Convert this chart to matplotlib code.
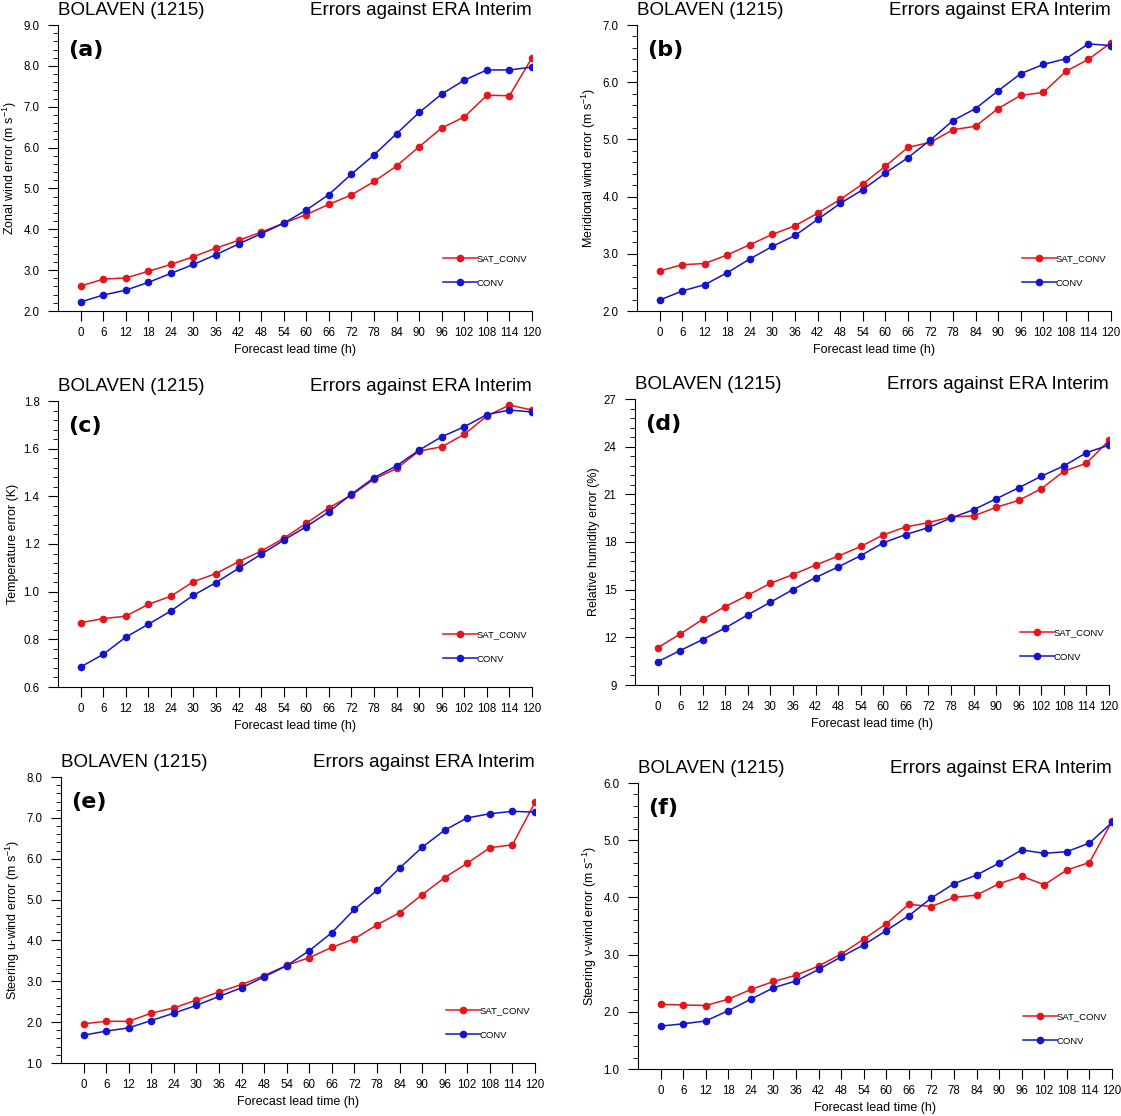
import matplotlib
matplotlib.use("Agg")
import matplotlib.pyplot as plt
from matplotlib.ticker import MultipleLocator, AutoMinorLocator, FormatStrFormatter

plt.rcParams['font.family'] = ['Liberation Sans', 'DejaVu Sans']
plt.rcParams['mathtext.fontset'] = 'custom'
plt.rcParams['mathtext.rm'] = 'Liberation Sans'
plt.rcParams['mathtext.it'] = 'Liberation Sans:italic'

# Forecast lead times (h)
hours = [0, 6, 12, 18, 24, 30, 36, 42, 48, 54, 60, 66, 72, 78, 84, 90, 96, 102, 108, 114, 120]

# (a) zonal wind error
zonal_sat = [2.61, 2.78, 2.81, 2.97, 3.14, 3.33, 3.54, 3.73, 3.93, 4.15, 4.36,
             4.61, 4.84, 5.17, 5.55, 6.02, 6.48, 6.75, 7.28, 7.27, 8.20]
zonal_conv = [2.22, 2.39, 2.51, 2.70, 2.92, 3.14, 3.38, 3.64, 3.89, 4.15, 4.47,
              4.85, 5.35, 5.82, 6.34, 6.86, 7.31, 7.65, 7.90, 7.90, 7.97]

# (b) meridional wind error
merid_sat = [2.70, 2.81, 2.83, 2.98, 3.16, 3.34, 3.49, 3.71, 3.95, 4.22, 4.53,
             4.86, 4.95, 5.17, 5.23, 5.54, 5.77, 5.82, 6.19, 6.40, 6.69]
merid_conv = [2.19, 2.35, 2.46, 2.67, 2.91, 3.13, 3.32, 3.60, 3.88, 4.12, 4.41,
              4.68, 4.99, 5.33, 5.54, 5.85, 6.15, 6.31, 6.41, 6.67, 6.64]

# (c) temperature error
temp_sat = [0.870, 0.887, 0.897, 0.947, 0.981, 1.042, 1.076, 1.126, 1.170, 1.224, 1.287,
            1.352, 1.405, 1.472, 1.517, 1.590, 1.608, 1.660, 1.737, 1.783, 1.762]
temp_conv = [0.684, 0.737, 0.809, 0.863, 0.919, 0.985, 1.038, 1.098, 1.157, 1.216, 1.273,
             1.335, 1.409, 1.478, 1.528, 1.594, 1.650, 1.692, 1.743, 1.762, 1.754]

# (d) relative humidity error
rh_sat = [11.34, 12.21, 13.13, 13.94, 14.65, 15.40, 15.95, 16.55, 17.11, 17.72, 18.45,
          18.95, 19.22, 19.58, 19.64, 20.18, 20.62, 21.35, 22.45, 22.96, 24.39]
rh_conv = [10.46, 11.17, 11.86, 12.59, 13.42, 14.21, 15.01, 15.76, 16.43, 17.14, 17.95,
           18.47, 18.91, 19.51, 20.03, 20.72, 21.41, 22.14, 22.79, 23.62, 24.10]

# (e) steering u-wind error
su_sat = [1.96, 2.02, 2.02, 2.22, 2.35, 2.54, 2.74, 2.92, 3.14, 3.39, 3.58,
          3.83, 4.04, 4.38, 4.68, 5.12, 5.54, 5.89, 6.27, 6.34, 7.38]
su_conv = [1.68, 1.78, 1.86, 2.04, 2.22, 2.41, 2.63, 2.84, 3.11, 3.38, 3.75,
           4.19, 4.76, 5.23, 5.77, 6.28, 6.70, 7.00, 7.10, 7.16, 7.14]

# (f) steering v-wind error
sv_sat = [2.13, 2.12, 2.11, 2.22, 2.39, 2.53, 2.64, 2.80, 3.01, 3.27, 3.54,
          3.88, 3.84, 4.00, 4.04, 4.24, 4.37, 4.22, 4.48, 4.61, 5.33]
sv_conv = [1.75, 1.79, 1.84, 2.02, 2.22, 2.42, 2.54, 2.74, 2.96, 3.17, 3.42,
           3.68, 3.99, 4.24, 4.39, 4.60, 4.83, 4.77, 4.80, 4.95, 5.31]

W, H = 1121, 1116
fig = plt.figure(figsize=(W / 100, H / 100), dpi=100)

red = '#e3161c'
blue = '#1414cc'

# panel setup: (left px, top px, tag, sat, conv, ylabel, ylim, major step, format)
panels = [
    (58, 25, '(a)', zonal_sat, zonal_conv, 'Zonal wind error (m s$^{-1}$)', (2, 9), 1.0, '%.1f'),
    (637, 25, '(b)', merid_sat, merid_conv, 'Meridional wind error (m s$^{-1}$)', (2, 7), 1.0, '%.1f'),
    (58, 401, '(c)', temp_sat, temp_conv, 'Temperature error (K)', (0.6, 1.8), 0.2, '%.1f'),
    (635, 399, '(d)', rh_sat, rh_conv, 'Relative humidity error (%)', (9, 27), 3, '%d'),
    (61, 777, '(e)', su_sat, su_conv, 'Steering u-wind error (m s$^{-1}$)', (1, 8), 1.0, '%.1f'),
    (638, 783, '(f)', sv_sat, sv_conv, 'Steering v-wind error (m s$^{-1}$)', (1, 6), 1.0, '%.1f'),
]

for left, top, tag, sat, conv, ylabel, ylim, major, fmt in panels:
    aw, ah = 474, 286
    ax = fig.add_axes([left / W, 1 - (top + ah) / H, aw / W, ah / H])

    ax.plot(hours, sat, color=red, lw=1.1, marker='o', ms=4.5, label='SAT_CONV')
    ax.plot(hours, conv, color=blue, lw=1.1, marker='o', ms=4.5, label='CONV')

    ax.set_xlim(-6, 120)
    ax.set_ylim(*ylim)
    ax.set_xticks(hours)
    ax.set_xticklabels([str(h) for h in hours])
    ax.yaxis.set_major_locator(MultipleLocator(major))
    ax.yaxis.set_minor_locator(AutoMinorLocator(5))
    ax.yaxis.set_major_formatter(FormatStrFormatter(fmt))

    for s in ['top', 'right']:
        ax.spines[s].set_visible(False)
    ax.spines['left'].set_linewidth(0.8)
    ax.spines['bottom'].set_linewidth(0.8)
    ax.tick_params(axis='x', direction='out', length=7.2, width=0.8, pad=4, labelsize=8.3)
    ax.tick_params(axis='y', which='major', direction='out', length=7.2, width=0.8, pad=6, labelsize=8.3)
    ax.tick_params(axis='y', which='minor', direction='out', length=3.6, width=0.6)

    ax.set_xlabel('Forecast lead time (h)', fontsize=9, labelpad=4)
    ax.set_ylabel(ylabel, fontsize=9, labelpad=3)

    ax.set_title('BOLAVEN (1215)', loc='left', fontsize=13.5, pad=7)
    ax.set_title('Errors against ERA Interim', loc='right', fontsize=13.5, pad=7)

    ax.text(0.021, 0.912, tag, transform=ax.transAxes, fontsize=16,
            fontweight='bold', family='DejaVu Sans', va='center', ha='left')

    ax.legend(loc='center left', bbox_to_anchor=(0.812, 0.14), frameon=False,
              fontsize=6.8, handlelength=3.6, handletextpad=0.0, labelspacing=1.6,
              borderpad=0, borderaxespad=0, numpoints=1)

fig.savefig('out.png', dpi=100)
